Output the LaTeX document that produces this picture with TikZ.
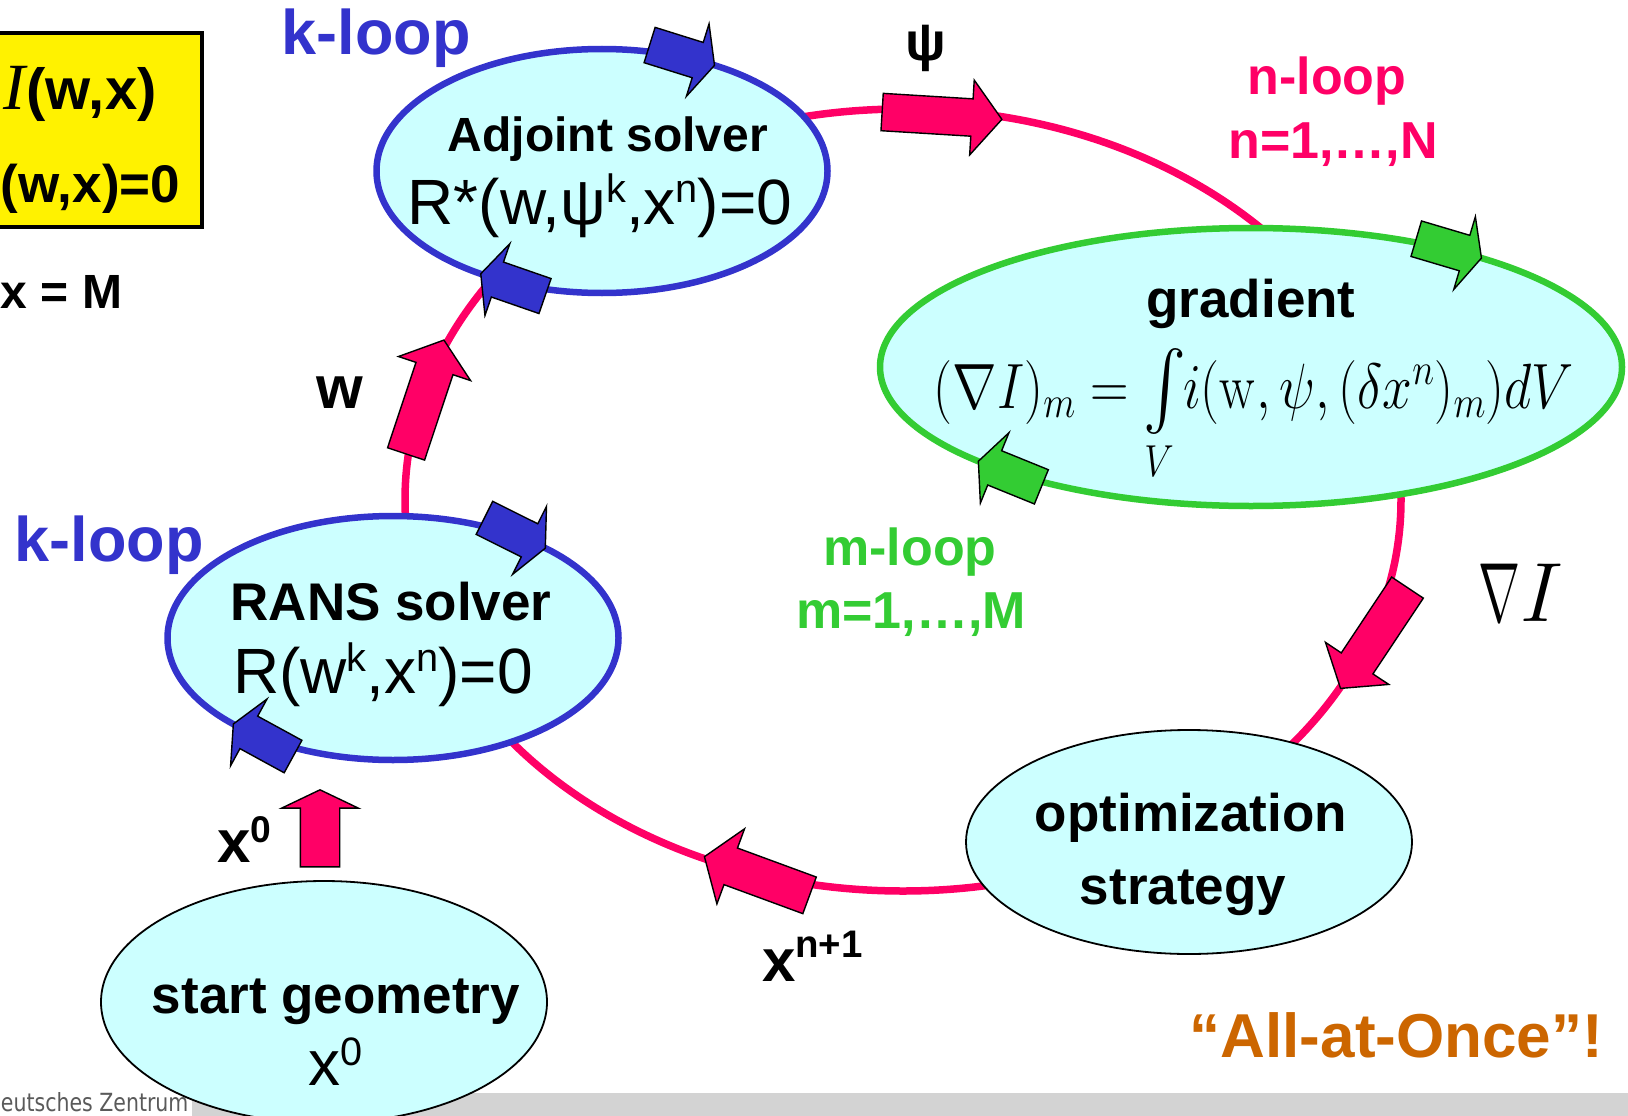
\RequirePackage{fix-cm}
\documentclass[tikz,border=0pt]{standalone}
\usepackage[no-math]{fontspec}
\setmainfont{Liberation Sans}
\newfontfamily\tnr{Liberation Serif}
\newfontfamily\dvs{DejaVu Sans}
\usepackage{graphicx}
\usetikzlibrary{shapes.geometric}
\definecolor{pinkc}{HTML}{FF0066}
\definecolor{bluec}{HTML}{3333CC}
\definecolor{greenc}{HTML}{33CC33}
\definecolor{cyanf}{HTML}{CCFFFF}
\definecolor{orangec}{HTML}{CC6600}
\definecolor{barc}{HTML}{D3D3D3}
\definecolor{grayt}{HTML}{5A5A5A}
\newcommand\fs[1]{\fontsize{#1}{#1}\selectfont}
\newcommand\sups[3]{\raisebox{#2em}{\scalebox{#1}{#3}}}
\newcommand\bigint{\mathop{\vcenter{\hbox{\resizebox*{!}{86pt}{\usefont{OMX}{cmex}{m}{n}\char"52}}}}}
% block arrow: cx cy angle length bodyhalf headhalf headlen colour
\newcommand\blockarr[8]{%
  \draw[arrline, fill=#8, shift={(#1,#2)}, rotate=#3]
    ({#4/2},0) -- ({#4/2-#7},#6) -- ({#4/2-#7},#5) -- ({-#4/2},#5)
    -- ({-#4/2},-#5) -- ({#4/2-#7},-#5) -- ({#4/2-#7},-#6) -- cycle;}
% arrow whose tip sits on an ellipse: cx cy rx ry param colour
\newcommand\ellarr[6]{%
  \pgfmathsetmacro\ex{#1+#3*cos(#5)}%
  \pgfmathsetmacro\ey{#2+#4*sin(#5)}%
  \pgfmathsetmacro\ea{atan2(-#4*cos(#5),-#3*sin(#5))}%
  \draw[arrline, fill=#6, shift={(\ex,\ey)}, rotate=\ea]
    (0,0) -- (-17.6,38) -- (-17.6,18.5) -- (-68,18.5) -- (-68,-18.5)
    -- (-17.6,-18.5) -- (-17.6,-38) -- cycle;}
\begin{document}
\begin{tikzpicture}[x=1pt,y=-1pt,
  txt/.style={inner sep=0pt, outer sep=0pt},
  loopline/.style={line width=7.5pt, draw=pinkc},
  solver/.style={ellipse, draw=bluec, line width=6.5pt, fill=cyanf, inner sep=0pt},
  gradnode/.style={ellipse, draw=greenc, line width=6.5pt, fill=cyanf, inner sep=0pt},
  plainnode/.style={ellipse, draw=black, line width=1.8pt, fill=cyanf, inner sep=0pt},
  arrline/.style={draw=black, line width=1.4pt, line join=miter},
]
\useasboundingbox (0,0) rectangle (1628,1116);
\clip (0,0) rectangle (1628,1116);

% bottom bar
\fill[barc] (192,1093) rectangle (1628,1116);
\node[txt, anchor=base west, text=grayt] (dlr) at (1,1111) {\dvs\fs{25}\scalebox{0.82}[1]{eutsches Zentrum}};

% yellow box
\draw[fill=yellow, line width=3.5pt] (-10,33) rectangle (202,227);
\node[txt, anchor=base west] (obj) at (3,110) {{\tnr\itshape\fs{66}I}\,{\fs{58}\bfseries(w,x)}};
\node[txt, anchor=base west] (con) at (1,202) {\fs{53}\bfseries(w,x)=0};
\node[txt, anchor=base west] (dim) at (1,308) {\fs{48}\bfseries x = M};

% pink loop
\draw[loopline] (903,500) ellipse [x radius=498, y radius=391];

% ellipses
\node[solver, minimum width=451, minimum height=244] (adj) at (602,171) {};
\node[solver, minimum width=451, minimum height=244] (rans) at (393,638) {};
\node[gradnode, minimum width=742, minimum height=278] (grad) at (1251,367) {};
\node[plainnode, minimum width=446, minimum height=224] (opt) at (1189,842) {};
\node[plainnode, minimum width=446, minimum height=242] (start) at (324,1002) {};

% blue and green loop arrows
\ellarr{602}{171}{225}{122}{-60}{bluec}
\ellarr{602}{171}{225}{122}{122.6}{bluec}
\ellarr{393}{638}{225}{122}{-47.4}{bluec}
\ellarr{393}{638}{225}{122}{135.2}{bluec}
\ellarr{1251}{367}{371}{139}{-51.6}{greenc}
\ellarr{1251}{367}{371}{139}{137.3}{greenc}

% pink arrows
\blockarr{942}{115.7}{-3.5}{120}{18.7}{37.5}{30}{pinkc}
\blockarr{425}{397}{71.6}{120}{19.5}{38}{30}{pinkc}
\blockarr{1374}{638}{-123.6}{121}{19}{38}{30}{pinkc}
\blockarr{757}{876}{159.8}{112}{19.5}{40}{28}{pinkc}
\blockarr{320}{828.3}{90}{77}{19.7}{38.3}{18.3}{pinkc}

% node texts
\node[txt, anchor=base] (adjA) at (608,151) {\fs{48}\bfseries Adjoint solver};
\node[txt, anchor=base] (adjB) at (600,224) {\fs{64}R*(w,ψ\sups{.62}{.34}{k},x\sups{.62}{.34}{n})=0};
\node[txt, anchor=base] (ransA) at (391,620) {\fs{53}\bfseries RANS solver};
\node[txt, anchor=base] (ransB) at (383,693) {\fs{64}R(w\sups{.62}{.34}{k},x\sups{.62}{.34}{n})=0};
\node[txt, anchor=base] (gradA) at (1251,317) {\fs{53}\bfseries gradient};
\node[txt, anchor=base] (gradB) at (1254,408) {\resizebox{640pt}{\height}{\fs{64}$(\nabla I)_m=\bigint\limits_{\vrule width 0pt height 40pt V} i(\mathrm{w},\psi,(\delta x^n)_{m})dV$}};
\node[txt, anchor=base] (optA) at (1191,831) {\fs{53}\bfseries optimization};
\node[txt, anchor=base] (optB) at (1183,904) {\fs{53}\bfseries strategy};
\node[txt, anchor=base] (stA) at (336,1013) {\fs{53}\bfseries start geometry};
\node[txt, anchor=base] (stB) at (336,1085) {\fs{64}x\sups{.62}{.3}{0}};

% labels
\node[txt, anchor=base, text=bluec] (kTop) at (376,55) {\fs{63}\bfseries k-loop};
\node[txt, anchor=base, text=bluec] (kLeft) at (109,561) {\fs{63}\bfseries k-loop};
\node[txt, anchor=base] (psiL) at (926,60) {\fs{54}\bfseries ψ};
\node[txt, anchor=base] (wL) at (340,408) {\fs{60}\bfseries w};
\node[txt, anchor=base west] (x0L) at (217,862) {\fs{60}\bfseries x\sups{.62}{.32}{0}};
\node[txt, anchor=base west] (xn1L) at (762,981) {\fs{60}\bfseries x\sups{.64}{.4}{n+1}};
\node[txt, anchor=base west] (gradIL) at (1478,621) {\fs{84}\scalebox{0.6}[1]{$\nabla$}$I$};
\node[txt, anchor=base, text=pinkc] (nl1) at (1327,95) {\fs{52}\bfseries n-loop};
\node[txt, anchor=base, text=pinkc] (nl2) at (1333,158) {\fs{52}\bfseries n=1,…,N};
\node[txt, anchor=base, text=greenc] (ml1) at (910,565) {\fs{52}\bfseries m-loop};
\node[txt, anchor=base, text=greenc] (ml2) at (911,628) {\fs{52}\bfseries m=1,…,M};
\node[txt, anchor=base east, text=orangec] (aao) at (1603,1057) {\fs{62}\bfseries “All-at-Once”!};
\end{tikzpicture}
\end{document}
